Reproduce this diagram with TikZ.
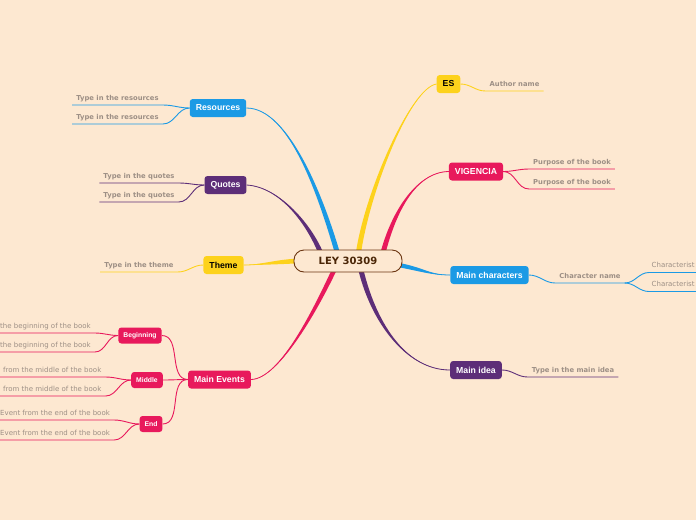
\documentclass[tikz,border=0pt]{standalone}
\usepackage{fontspec}
\usetikzlibrary{calc}
\newfontfamily\dvs{DejaVu Sans}
\newfontfamily\lib{Liberation Sans}
\definecolor{paper}{HTML}{FDE8D1}
\definecolor{mmblue}{HTML}{1B9AE5}
\definecolor{mmpurple}{HTML}{5D2E78}
\definecolor{mmyellow}{HTML}{FDD21C}
\definecolor{mmpink}{HTML}{E8195C}
\definecolor{rootline}{HTML}{6B3511}
\definecolor{roottext}{HTML}{4A2506}
\definecolor{leafgrey}{HTML}{9D8F85}
\pgfdeclarelayer{background}
\pgfsetlayers{background,main}
\tikzset{
  root/.style={draw=rootline, line width=0.9, fill=paper, rounded corners=10,
    minimum width=108, minimum height=22, text=roottext,
    font=\dvs\bfseries\fontsize{10}{12}\selectfont},
  topic/.style={rounded corners=3, minimum height=18, inner xsep=6, text=white,
    font=\lib\bfseries\fontsize{8.7}{10}\selectfont},
  subtopic/.style={topic, minimum height=16, inner xsep=5,
    font=\lib\bfseries\fontsize{6.8}{8}\selectfont},
  leaf/.style={anchor=south, inner xsep=4, inner ysep=2, text depth=2.5pt, text=leafgrey,
    font=\dvs\bfseries\fontsize{6.8}{8}\selectfont},
  subleaf/.style={leaf, font=\dvs\fontsize{7}{8.5}\selectfont},
  twig/.style={line width=0.9}
}
\newcommand{\branch}[6]{%
  \fill[#1] ($(#2)+(#6)$) .. controls ($(#4)+(#6)$) and (#5) .. (#3)
    .. controls (#5) and ($(#4)-(#6)$) .. ($(#2)-(#6)$) -- cycle;
  \draw[#1, line width=0.8] (#2) .. controls (#4) and (#5) .. (#3);}
\begin{document}
\begin{tikzpicture}[x=1pt,y=-1pt]
    \useasboundingbox (0,0) rectangle (696,520);
    \node[root] (ley) at (348,261) {LEY 30309};
    \node[topic, fill=mmblue] (res) at (218,108) {Resources};
    \node[topic, fill=mmpurple] (quo) at (225.5,185) {Quotes};
    \node[topic, fill=mmyellow, text=black] (the) at (223.5,265) {Theme};
    \node[topic, fill=mmpink] (evt) at (219.5,379.5) {Main Events};
    \node[subtopic, fill=mmpink] (beg) at (140,335.5) {Beginning};
    \node[subtopic, fill=mmpink] (mid) at (147,380) {Middle};
    \node[subtopic, fill=mmpink] (evend) at (151,424) {End};
    \node[topic, fill=mmyellow, text=black] (es) at (448.5,84) {ES};
    \node[topic, fill=mmpink] (vig) at (476,171.5) {VIGENCIA};
    \node[topic, fill=mmblue] (mch) at (489.5,275) {Main characters};
    \node[topic, fill=mmpurple] (idea) at (476,370) {Main idea};

    \node[leaf] (r1) at (117.5,105) {Type in the resources};
    \node[leaf] (r2) at (117.5,124) {Type in the resources};
    \node[leaf] (q1) at (139,183) {Type in the quotes};
    \node[leaf] (q2) at (139,202) {Type in the quotes};
    \node[leaf] (t1) at (139,272) {Type in the theme};
    \node[subleaf, anchor=south west] (b1) at (-4,333) {the beginning of the book};
    \node[subleaf, anchor=south west] (b2) at (-4,352) {the beginning of the book};
    \node[subleaf, anchor=south west] (m1) at (-1,377) {from the middle of the book};
    \node[subleaf, anchor=south west] (m2) at (-1,396) {from the middle of the book};
    \node[subleaf, anchor=south west] (e1) at (-4,420) {Event from the end of the book};
    \node[subleaf, anchor=south west] (e2) at (-4,440) {Event from the end of the book};
    \node[leaf] (a1) at (514.5,91) {Author name};
    \node[leaf] (p1) at (572,169) {Purpose of the book};
    \node[leaf] (p2) at (572,189) {Purpose of the book};
    \node[leaf] (c0) at (590,283) {Character name};
    \node[subleaf, anchor=south west, inner xsep=2.5] (c1) at (649,272.5) {Characterist};
    \node[subleaf, anchor=south west, inner xsep=2.5] (c2) at (649,291.5) {Characterist};
    \node[leaf] (i1) at (573,377) {Type in the main idea};

    \begin{pgfonlayer}{background}
    \fill[paper] (0,0) rectangle (696,520);
    \coordinate (s1) at ($(ley.center)+(-10,-6)$);
    \coordinate (s2) at ($(ley.center)+(-26,-5)$);
    \coordinate (s3) at ($(ley.west)+(4,0)$);
    \coordinate (s4) at ($(ley.center)+(-12,5)$);
    \coordinate (s5) at ($(ley.center)+(10,-5)$);
    \coordinate (s6) at ($(ley.center)+(34,-4)$);
    \coordinate (s7) at ($(ley.east)+(-4,4)$);
    \coordinate (s8) at ($(ley.center)+(12,5)$);
    \coordinate (edge1) at (696,272.5);
    \coordinate (edge2) at (696,291.5);
    \branch{mmblue}{s1}{res.east}{322,200}{290,108}{2.6,0}
    \branch{mmpurple}{s2}{quo.east}{310,225}{280,187}{2.6,0}
    \branch{mmyellow}{s3}{the.east}{275,262}{260,265}{0,2.4}
    \branch{mmpink}{s4}{evt.east}{318,305}{280,379}{2.6,0}
    \branch{mmyellow}{s5}{es.west}{366,195}{410,88}{2.6,0}
    \branch{mmpink}{s6}{vig.west}{392,215}{415,172}{2.6,0}
    \branch{mmblue}{s7}{mch.west}{425,270}{430,275}{0,2.2}
    \branch{mmpurple}{s8}{idea.west}{372,320}{405,370}{2.6,0}
    \foreach \n in {r1,r2}
      \draw[mmblue, twig] (res.west) to[out=180,in=0] (\n.south east) -- (\n.south west);
    \foreach \n in {q1,q2}
      \draw[mmpurple, twig] (quo.west) to[out=180,in=0] (\n.south east) -- (\n.south west);
    \draw[mmyellow, twig] (the.west) to[out=180,in=0] (t1.south east) -- (t1.south west);
    \foreach \n in {beg,mid,evend}
      \draw[mmpink, twig] (evt.west) to[out=180,in=0] (\n.east);
    \foreach \n in {b1,b2}
      \draw[mmpink, twig] (beg.west) to[out=180,in=0] (\n.south east) -- (\n.south west);
    \foreach \n in {m1,m2}
      \draw[mmpink, twig] (mid.west) to[out=180,in=0] (\n.south east) -- (\n.south west);
    \foreach \n in {e1,e2}
      \draw[mmpink, twig] (evend.west) to[out=180,in=0] (\n.south east) -- (\n.south west);
    \draw[mmyellow, twig] (es.east) to[out=0,in=180] (a1.south west) -- (a1.south east);
    \foreach \n in {p1,p2}
      \draw[mmpink, twig] (vig.east) to[out=0,in=180] (\n.south west) -- (\n.south east);
    \draw[mmblue, twig] (mch.east) to[out=0,in=180] (c0.south west) -- (c0.south east);
    \draw[mmblue, twig] (c0.south east) to[out=0,in=180] (c1.south west) -- (edge1);
    \draw[mmblue, twig] (c0.south east) to[out=0,in=180] (c2.south west) -- (edge2);
    \draw[mmpurple, twig] (idea.east) to[out=0,in=180] (i1.south west) -- (i1.south east);
    \end{pgfonlayer}
\end{tikzpicture}
\end{document}
